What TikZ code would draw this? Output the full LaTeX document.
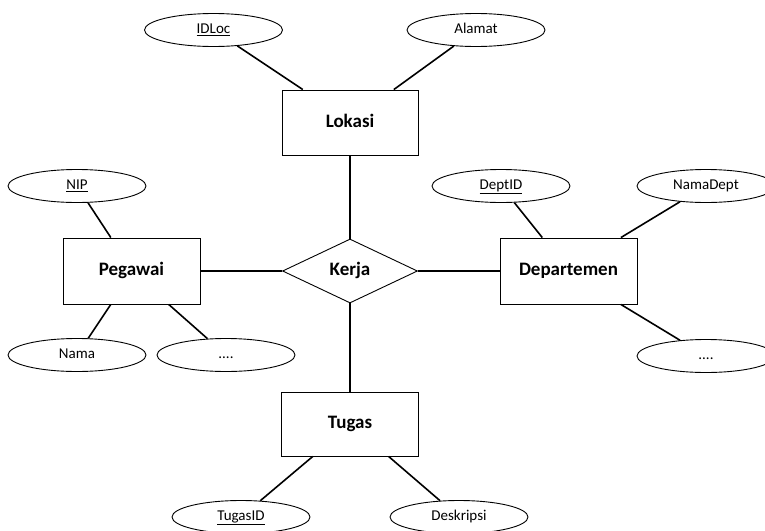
\documentclass[tikz,border=0pt]{standalone}
\usepackage{fontspec}
\setmainfont{Carlito}
\usetikzlibrary{shapes.geometric,calc}
\tikzset{
  entity/.style={draw, line width=0.9pt, rectangle, inner sep=0pt, text height=13pt, text depth=4pt, font=\fontsize{19}{22}\selectfont\bfseries},
  attr/.style={draw, line width=0.9pt, ellipse, minimum width=138pt, minimum height=33pt, inner sep=0pt, text height=10pt, text depth=3pt, font=\fontsize{15}{18}\selectfont},
  rel/.style={draw, line width=0.9pt, diamond, minimum width=135pt, minimum height=64pt, inner sep=0pt, text height=13pt, text depth=4pt, font=\fontsize{19}{22}\selectfont\bfseries},
  conn/.style={line width=1.6pt}
}
\begin{document}
\begin{tikzpicture}[x=1pt,y=-1pt]
\useasboundingbox (0,0) rectangle (765,530);
% entities
\node[entity, minimum width=136pt, minimum height=65pt] (lok) at (350,122.5) {Lokasi};
\node[entity, minimum width=137pt, minimum height=66pt] (peg) at (131.5,271) {Pegawai};
\node[entity, minimum width=137pt, minimum height=66pt] (dep) at (568.5,271) {Departemen};
\node[entity, minimum width=137pt, minimum height=64pt] (tug) at (350,424) {Tugas};
% relationship
\node[rel] (kerja) at (350,271) {Kerja};
% attributes
\node[attr] (idloc) at (213.5,30) {\underline{IDLoc}};
\node[attr] (alamat) at (476,30) {Alamat};
\node[attr] (nip) at (77,186) {\underline{NIP}};
\node[attr] (nama) at (77,355) {Nama};
\node[attr] (dotsl) at (226,355) {....};
\node[attr] (deptid) at (501,186) {\underline{DeptID}};
\node[attr] (namadept) at (706,186) {NamaDept};
\node[attr] (dotsr) at (706,356) {....};
\node[attr] (tugasid) at (241,517) {\underline{TugasID}};
\node[attr] (desk) at (459,517) {Deskripsi};
% connectors
\draw[conn] (lok.south) -- (kerja.north);
\draw[conn] (kerja.south) -- (tug.north);
\draw[conn] (peg.east) -- (kerja.west);
\draw[conn] (kerja.east) -- (dep.west);
\draw[conn] (idloc) -- ($(lok.north west)!0.155!(lok.north east)$);
\draw[conn] (alamat) -- ($(lok.north west)!0.82!(lok.north east)$);
\draw[conn] (nip) -- ($(peg.north west)!0.35!(peg.north east)$);
\draw[conn] (nama) -- ($(peg.south west)!0.35!(peg.south east)$);
\draw[conn] (dotsl) -- ($(peg.south west)!0.77!(peg.south east)$);
\draw[conn] (deptid) -- ($(dep.north west)!0.31!(dep.north east)$);
\draw[conn] (namadept) -- ($(dep.north west)!0.88!(dep.north east)$);
\draw[conn] (dotsr) -- ($(dep.south west)!0.88!(dep.south east)$);
\draw[conn] (tugasid) -- ($(tug.south west)!0.23!(tug.south east)$);
\draw[conn] (desk) -- ($(tug.south west)!0.78!(tug.south east)$);
\end{tikzpicture}
\end{document}
